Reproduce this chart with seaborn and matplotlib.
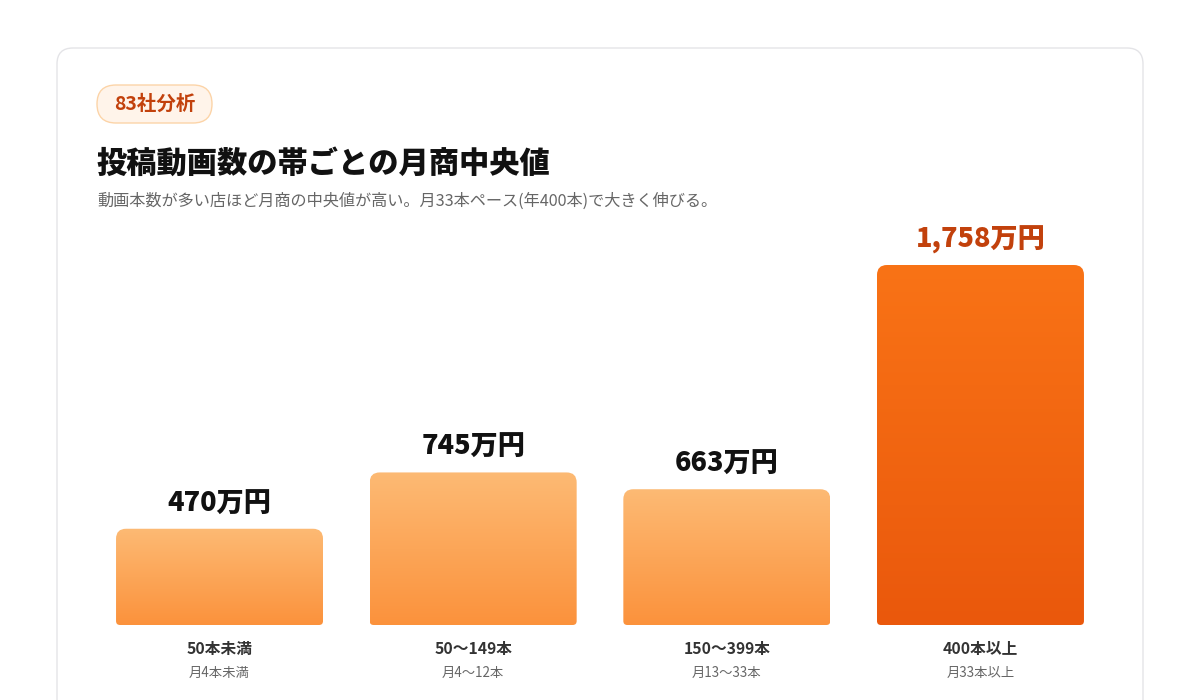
import numpy as np
import matplotlib
matplotlib.use("Agg")
import matplotlib.pyplot as plt
import seaborn as sns
import pandas as pd
from matplotlib.patches import FancyBboxPatch, PathPatch
from matplotlib.path import Path
from matplotlib.colors import LinearSegmentedColormap
from matplotlib.transforms import Affine2D, blended_transform_factory

# ---- data ----
categories = ["50本未満", "50〜149本", "150〜399本", "400本以上"]
sublabels = ["月4本未満", "月4〜12本", "月13〜33本", "月33本以上"]
values = [470, 745, 663, 1758]
badge_text = "83社分析"
title = "投稿動画数の帯ごとの月商中央値"
subtitle = "動画本数が多い店ほど月商の中央値が高い。月33本ペース(年400本)で大きく伸びる。"

sns.set_theme(style="white")
plt.rcParams['font.family'] = ['Noto Sans CJK JP', 'DejaVu Sans']

W, H = 1200, 700
fig = plt.figure(figsize=(12, 7), dpi=100)
fig.patch.set_facecolor("white")
PX = Affine2D().scale(1, -1).translate(0, H)  # image pixel coords (top-left origin) -> display

# card
card = FancyBboxPatch((57, 48), 1086, 700, boxstyle="round,pad=0,rounding_size=16",
                      transform=PX, facecolor="white", edgecolor="#E4E4E7", linewidth=1.0,
                      zorder=-5)
fig.add_artist(card)

# badge
badge = FancyBboxPatch((97, 85), 115, 38, boxstyle="round,pad=0,rounding_size=19",
                       transform=PX, facecolor="#FFF4EA", edgecolor="#FCD4A8", linewidth=1.0,
                       zorder=-4)
fig.add_artist(badge)
fig.text(154.5, 104, badge_text, transform=PX, ha="center", va="center",
         fontsize=14, fontweight="bold", color="#C2410C")

fig.text(97, 163, title, transform=PX, ha="left", va="center",
         fontsize=21.8, fontweight="black", color="#111111")
fig.text(97, 201, subtitle, transform=PX, ha="left", va="center",
         fontsize=11.65, color="#666666")

# axes: bottom at y=625, top at y=225 (pixels), left 92.7 right 1107.3
ax_l, ax_r, ax_b, ax_t = 92.7, 1107.3, 625, 225
ax = fig.add_axes([ax_l / W, (H - ax_b) / H, (ax_r - ax_l) / W, (ax_b - ax_t) / H])
ax.set_facecolor("none")
ax.set_zorder(2)
df = pd.DataFrame({"cat": categories, "val": values})
sns.barplot(data=df, x="cat", y="val", ax=ax, width=0.816, color="#FB923C", saturation=1)
ymax = max(values) * 400 / 360
ax.set_ylim(0, ymax)
ax.set_xlim(-0.5, len(categories) - 0.5)
ax.axis("off")

px_x = (len(categories)) / (ax_r - ax_l)   # data units per px (x)
px_y = ymax / (ax_b - ax_t)                # data units per px (y)

def rounded_path(x0, y0, x1, y1, rt, rb):
    rtx, rty = rt * px_x, rt * px_y
    rbx, rby = rb * px_x, rb * px_y
    verts = [
        (x0 + rbx, y0), (x1 - rbx, y0), (x1, y0), (x1, y0 + rby),
        (x1, y1 - rty), (x1, y1), (x1 - rtx, y1),
        (x0 + rtx, y1), (x0, y1), (x0, y1 - rty),
        (x0, y0 + rby), (x0, y0), (x0 + rbx, y0), (x0 + rbx, y0)]
    codes = [Path.MOVETO, Path.LINETO, Path.CURVE3, Path.CURVE3,
             Path.LINETO, Path.CURVE3, Path.CURVE3,
             Path.LINETO, Path.CURVE3, Path.CURVE3,
             Path.LINETO, Path.CURVE3, Path.CURVE3, Path.CLOSEPOLY]
    return Path(verts, codes)

light = LinearSegmentedColormap.from_list("light", ["#FB923C", "#FDBA74"])
strong = LinearSegmentedColormap.from_list("strong", ["#EA580C", "#F97316"])
grad = np.linspace(0, 1, 256).reshape(-1, 1)

imax = int(np.argmax(values))
bars = list(ax.patches)
for i, p in enumerate(bars):
    x0, y0 = p.get_x(), p.get_y()
    x1, y1 = x0 + p.get_width(), y0 + p.get_height()
    p.set_visible(False)
    path = rounded_path(x0, y0, x1, y1, 10, 4)
    clip = PathPatch(path, facecolor="none", edgecolor="none", transform=ax.transData)
    ax.add_patch(clip)
    cmap = strong if i == imax else light
    im = ax.imshow(grad, cmap=cmap, origin="lower", extent=[x0, x1, y0, y1],
                   aspect="auto", interpolation="bicubic", zorder=2)
    im.set_clip_path(clip)
    v = values[i]
    ax.annotate(f"{v:,}万円", xy=((x0 + x1) / 2, y1), xytext=(0, 12.5),
                textcoords="offset points", ha="center", va="baseline",
                fontsize=19.5, fontweight="black",
                color="#C2410C" if i == imax else "#111111", zorder=3,
                annotation_clip=False)

ax.set_xlim(-0.5, len(categories) - 0.5)
ax.set_ylim(0, ymax)

bt = blended_transform_factory(ax.transData, PX)
for i, (c, s) in enumerate(zip(categories, sublabels)):
    ax.text(i, 649, c, transform=bt, ha="center", va="center", fontsize=11.3,
            fontweight="bold", color="#333333", clip_on=False)
    ax.text(i, 673, s, transform=bt, ha="center", va="center", fontsize=9.6,
            color="#666666", clip_on=False)

fig.savefig("out.png", dpi=100, facecolor="white")
